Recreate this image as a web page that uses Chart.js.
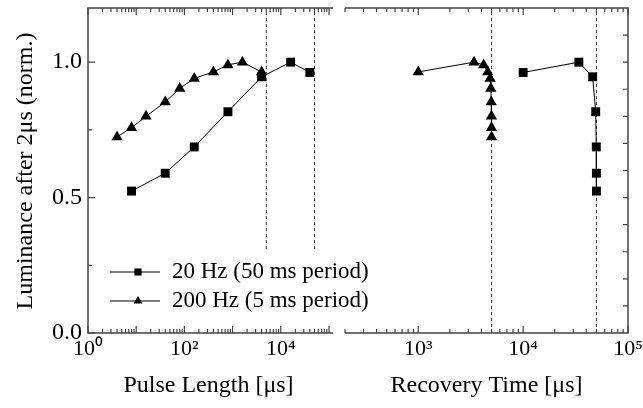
<!DOCTYPE html>
<html>
<head>
<meta charset="utf-8">
<script src="https://cdn.jsdelivr.net/npm/chart.js@4.4.0/dist/chart.umd.min.js"></script>
<style>
    html, body { margin: 0; padding: 0; background: #fff; overflow: hidden; }
    #wrap { position: relative; width: 643px; height: 408px; overflow: hidden; }
    #boxLeft { position: absolute; left: 0; top: 0; width: 643px; height: 408px; }
    #boxRight { position: absolute; left: 335px; top: 0; width: 330px; height: 408px; }
</style>
</head>
<body>
<div id="wrap">
    <div id="boxLeft"><canvas id="chartLeft"></canvas></div>
    <div id="boxRight"><canvas id="chartRight"></canvas></div>
</div>
<script>
// pulse length panel
const pulse20Hz = [8, 40, 160, 800, 4000, 16000, 40000]
const lum20HzPulse = [0.524, 0.59, 0.687, 0.817, 0.946, 1.0, 0.962]
const pulse200Hz = [4, 8, 16, 40, 80, 160, 400, 800, 1600, 4000]
const lum200HzPulse = [0.724, 0.758, 0.80, 0.853, 0.903, 0.94, 0.964, 0.99, 1.0, 0.964]

// recovery time panel
const recovery20Hz = [10000, 34000, 46000, 49200, 49840, 49960, 49992]
const lum20HzRecovery = [0.962, 1.0, 0.946, 0.817, 0.687, 0.59, 0.524]
const recovery200Hz = [1000, 3400, 4200, 4600, 4840, 4920, 4960, 4984, 4992, 4996]
const lum200HzRecovery = [0.964, 1.0, 0.99, 0.964, 0.94, 0.903, 0.853, 0.80, 0.758, 0.724]

// 5 ms and 50 ms periods (dashed lines)
const periods = [5000, 50000]
const leftDashBottom = 0.31

const seriesLabels = ['20 Hz (50 ms period)', '200 Hz (5 ms period)']
const leftTicks = [1, 100, 10000]
const leftTickLabels = ['10⁰', '10²', '10⁴']
const rightTicks = [1000, 10000, 100000]
const rightTickLabels = ['10³', '10⁴', '10⁵']
const yTicks = [0, 0.5, 1.0]
const yTickLabels = ['0.0', '0.5', '1.0']

const FONT = "'Liberation Serif', 'Times New Roman', serif"
const AXIS_COLOR = '#444'

const toPoints = (xs, ys) => xs.map((x, i) => ({ x: x, y: ys[i] }))

const serie = (label, data, style, radius) => ({
    label: label,
    data: data,
    borderColor: '#000',
    backgroundColor: '#000',
    borderWidth: 1,
    pointStyle: style,
    pointRadius: radius,
    pointBorderWidth: 0,
    pointBackgroundColor: '#000',
    tension: 0
})

const dashLine = (x, yBottom) => ({
    label: '',
    data: [{ x: x, y: yBottom }, { x: x, y: 1.2 }],
    borderColor: '#333',
    borderWidth: 1,
    borderDash: [3, 3],
    pointRadius: 0
})

const logTickValues = (min, max) => {
    const values = []
    for (let d = Math.floor(Math.log10(min)); d <= Math.ceil(Math.log10(max)); d++) {
        for (let m = 1; m <= 9; m++) {
            const v = m * Math.pow(10, d)
            if (v >= min * 0.999 && v <= max * 1.001) values.push({ v: v, major: m === 1 })
        }
    }
    return values
}

// draws the frame with inward ticks, like the original plot
const framePlugin = (side) => ({
    id: 'frame' + side,
    afterDatasetsDraw: (chart) => {
        const { ctx, chartArea: area, scales: { x, y } } = chart
        ctx.save()
        ctx.strokeStyle = AXIS_COLOR
        ctx.lineWidth = 1.5
        ctx.beginPath()
        if (side === 'left') {
            ctx.moveTo(area.right + 4, area.top)
            ctx.lineTo(area.left, area.top)
            ctx.lineTo(area.left, area.bottom)
            ctx.lineTo(area.right + 4, area.bottom)
        } else {
            ctx.moveTo(area.left, area.top)
            ctx.lineTo(area.right, area.top)
            ctx.lineTo(area.right, area.bottom)
            ctx.lineTo(area.left, area.bottom)
        }
        ctx.stroke()

        ctx.lineWidth = 1.2
        ctx.beginPath()
        logTickValues(x.min, x.max).forEach(t => {
            const px = x.getPixelForValue(t.v)
            const len = t.major ? 7 : 4
            ctx.moveTo(px, area.top)
            ctx.lineTo(px, area.top + len)
            ctx.moveTo(px, area.bottom)
            ctx.lineTo(px, area.bottom - len)
        })
        if (side === 'left') {
            [0, 0.25, 0.5, 0.75, 1.0].forEach(v => {
                const py = y.getPixelForValue(v)
                const len = (v * 2) % 1 === 0 ? 7 : 4
                ctx.moveTo(area.left, py)
                ctx.lineTo(area.left + len, py)
            })
        } else {
            for (let i = 1; i <= 11; i++) {
                const py = y.getPixelForValue(i / 10)
                ctx.moveTo(area.right, py)
                ctx.lineTo(area.right - 5, py)
            }
        }
        ctx.stroke()
        ctx.restore()
    },
    afterDraw: (chart) => {
        const { ctx, chartArea: area } = chart
        ctx.save()
        ctx.fillStyle = '#000'
        ctx.textAlign = 'center'
        ctx.textBaseline = 'alphabetic'
        ctx.font = `24px ${FONT}`
        if (side === 'left') {
            ctx.fillText('Pulse Length [μs]', (area.left + area.right) / 2, 392)

            ctx.save()
            ctx.translate(32, 171)
            ctx.rotate(-Math.PI / 2)
            ctx.fillText('Luminance after 2μs (norm.)', 0, 0)
            ctx.restore()

            // legend
            const rows = [272, 301]
            chart.data.datasets.slice(0, 2).forEach((ds, i) => {
                const yy = rows[i]
                ctx.strokeStyle = '#000'
                ctx.lineWidth = 1
                ctx.beginPath()
                ctx.moveTo(110, yy)
                ctx.lineTo(160, yy)
                ctx.stroke()
                ctx.fillStyle = '#000'
                Chart.helpers.drawPoint(ctx, {
                    pointStyle: ds.pointStyle,
                    radius: 5,
                    rotation: 0,
                    borderWidth: 0
                }, 138, yy)
                ctx.font = `23px ${FONT}`
                ctx.textAlign = 'left'
                ctx.textBaseline = 'middle'
                ctx.fillText(ds.label, 172, yy)
            })
        } else {
            ctx.fillText('Recovery Time [μs]', (area.left + area.right) / 2, 392)
        }
        ctx.restore()
    }
})

const xScale = (min, max, ticks, labels) => ({
    type: 'logarithmic',
    min: min,
    max: max,
    grid: { display: false, drawTicks: false },
    border: { display: false },
    afterBuildTicks: (scale) => { scale.ticks = ticks.map(v => ({ value: v })) },
    afterFit: (scale) => { scale.height = 75; scale.paddingLeft = 0; scale.paddingRight = 0 },
    ticks: {
        autoSkip: false,
        maxRotation: 0,
        padding: 3,
        color: '#000',
        font: { family: FONT, size: 22 },
        callback: (value, index) => labels[index]
    }
})

const commonOptions = {
    responsive: true,
    maintainAspectRatio: false,
    animation: false,
    events: [],
    plugins: { legend: { display: false }, tooltip: { enabled: false } }
}

const chartLeft = new Chart(document.getElementById('chartLeft').getContext('2d'), {
    type: 'line',
    data: {
        datasets: [
            serie(seriesLabels[0], toPoints(pulse20Hz, lum20HzPulse), 'rect', 6.3),
            serie(seriesLabels[1], toPoints(pulse200Hz, lum200HzPulse), 'triangle', 6.5),
            ...periods.map(p => dashLine(p, leftDashBottom))
        ]
    },
    options: {
        ...commonOptions,
        layout: { padding: { left: 0, right: 314, top: 8, bottom: 0 } },
        scales: {
            x: xScale(1, 100000, leftTicks, leftTickLabels),
            y: {
                type: 'linear',
                min: 0,
                max: 1.2,
                grid: { display: false, drawTicks: false },
                border: { display: false },
                afterBuildTicks: (scale) => { scale.ticks = yTicks.map(v => ({ value: v })) },
                afterFit: (scale) => { scale.width = 88; scale.paddingTop = 0; scale.paddingBottom = 0 },
                ticks: {
                    padding: 6,
                    color: '#000',
                    font: { family: FONT, size: 24 },
                    callback: (value, index) => yTickLabels[index]
                }
            }
        }
    },
    plugins: [framePlugin('left')]
})

const chartRight = new Chart(document.getElementById('chartRight').getContext('2d'), {
    type: 'line',
    data: {
        datasets: [
            serie(seriesLabels[0], toPoints(recovery20Hz, lum20HzRecovery), 'rect', 6.3),
            serie(seriesLabels[1], toPoints(recovery200Hz, lum200HzRecovery), 'triangle', 6.5),
            ...periods.map(p => dashLine(p, 0))
        ]
    },
    options: {
        ...commonOptions,
        layout: { padding: { left: 10, right: 37, top: 8, bottom: 0 } },
        scales: {
            x: xScale(200, 100000, rightTicks, rightTickLabels),
            y: { type: 'linear', min: 0, max: 1.2, display: false }
        }
    },
    plugins: [framePlugin('right')]
})
</script>
</body>
</html>
